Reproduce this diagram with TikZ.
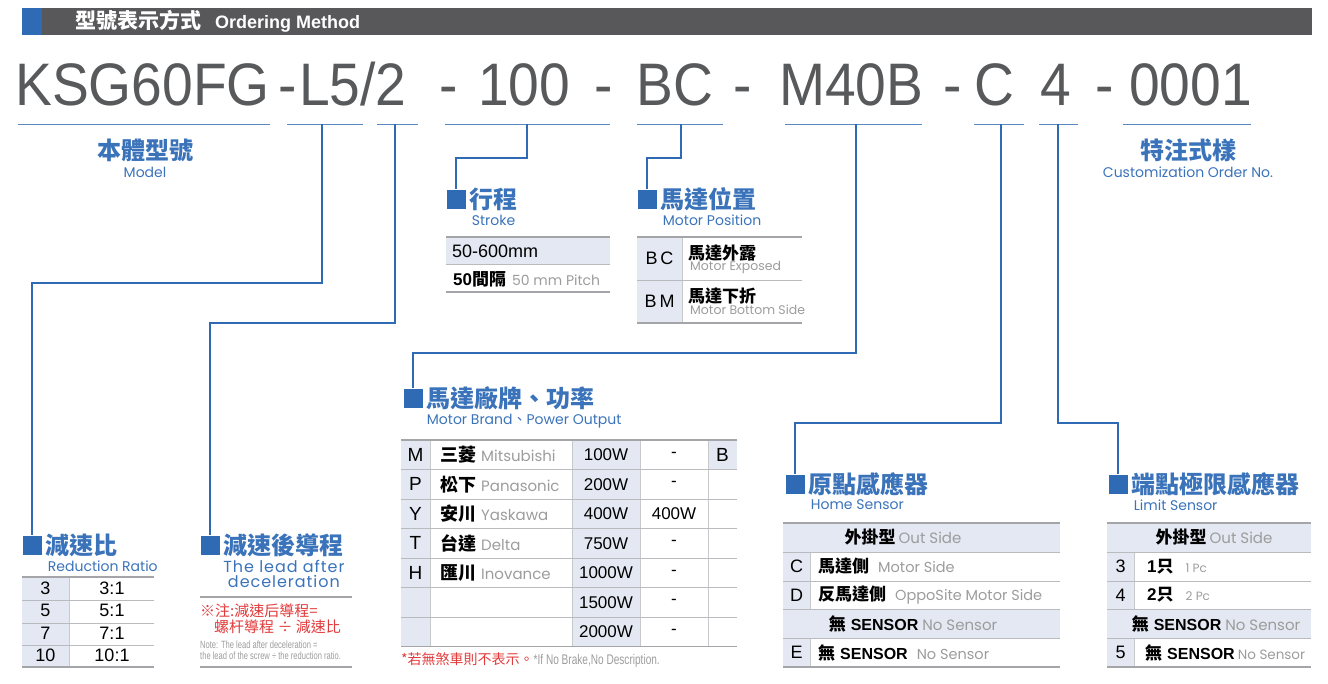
\documentclass[tikz,border=0pt]{standalone}
\usepackage{fontspec}
\setmainfont{Liberation Sans}
\newfontfamily\codefont[FakeStretch=0.92]{Liberation Sans}
\newfontfamily\notefont[FakeStretch=0.72]{Liberation Sans}
\newfontfamily\geofont{Poppins}
\newfontfamily\geowide[LetterSpace=6]{Poppins}
\newfontfamily\cjk{Noto Sans CJK TC}
\usetikzlibrary{positioning}
\usetikzlibrary{calc}

\definecolor{hdrgray}{HTML}{58585A}
\definecolor{kblue}{HTML}{2E6BB4}
\definecolor{tblue}{HTML}{3A73BA}
\definecolor{cellblue}{HTML}{E3E8F2}
\definecolor{rulegray}{HTML}{A3A5A8}
\definecolor{codegray}{HTML}{58595B}
\definecolor{engray}{HTML}{9C9C9C}
\definecolor{notered}{HTML}{E23A3B}

\newcommand\fsz[1]{\fontsize{#1}{#1}\selectfont}
\newcommand\engl[1]{{\geofont\color{engray}#1}}
\newcommand\cjkb[1]{{\cjk\bfseries #1}}

\begin{document}
\begin{tikzpicture}[x=1pt,y=-1pt,
                    every node/.style={inner sep=0pt},
                    link/.style={kblue,line width=1.4pt},
                    underline/.style={kblue!80,line width=1pt},
                    bullet/.style={fill=kblue,minimum size=19pt},
                    sectitle/.style={tblue,font=\cjk\bfseries\fsz{24},anchor=west},
                    secsub/.style={tblue,font=\geofont\fsz{14}},
                    code/.style={codegray,font=\codefont\fsz{60},anchor=base west},
                    toprule/.style={rulegray,line width=1.6pt},
                    midrule/.style={rulegray!75,line width=1pt},
                    vrule/.style={rulegray!60,line width=0.8pt},
                    cell/.style={font=\fsz{18}}]
\useasboundingbox (0,0) rectangle (1328,683);
% header bar
\fill[hdrgray] (22,8) rectangle (1312,35);
\fill[kblue] (22,8) rectangle (42,35);
\node[anchor=west,white] (header) at (75,21.5)
     {\cjkb{\fsz{21}型號表示方式}\hspace{14pt}{\bfseries\fsz{18}Ordering Method}};
%
% the ordering code
\node[code] (model code) at (15,105) {KSG60FG};
\node[code] (dash 1) at (278,105) {-};
\node[code] (lead code) at (299,105) {L5/2};
\node[code] (dash 2) at (439,105) {-};
\node[code] (stroke code) at (478,105) {100};
\node[code] (dash 3) at (594,105) {-};
\node[code] (pos code) at (636,105) {BC};
\node[code] (dash 4) at (733,105) {-};
\node[code] (brand code) at (779,105) {M40B};
\node[code] (dash 5) at (943,105) {-};
\node[code] (home code) at (974,105) {C};
\node[code] (limit code) at (1040,105) {4};
\node[code] (dash 6) at (1095,105) {-};
\node[code] (custom code) at (1129,105) {0001};
%
\draw[underline] (18,124) -- (270,124);
\draw[underline] (287,124) -- (363,124);
\draw[underline] (377,124) -- (418,124);
\draw[underline] (445,124) -- (610,124);
\draw[underline] (637,124) -- (723,124);
\draw[underline] (785,124) -- (922,124);
\draw[underline] (974,124) -- (1024,124);
\draw[underline] (1039,124) -- (1078,124);
\draw[underline] (1123,124) -- (1251,124);
\coordinate (ratio drop) at (322,124);
\coordinate (lead drop) at (395,124);
\coordinate (stroke drop) at (527,124);
\coordinate (pos drop) at (681,124);
\coordinate (brand drop) at (856,124);
\coordinate (home drop) at (1001,124);
\coordinate (limit drop) at (1058,124);
%
\node[tblue,font=\cjk\bfseries\fsz{24}] (model title) at (145,150) {本體型號};
\node[secsub,below=5pt of model title] (model sub) {Model};
\node[tblue,font=\cjk\bfseries\fsz{24}] (custom title) at (1188,150) {特注式樣};
\node[secsub,below=5pt of custom title] (custom sub) {Customization Order No.};
%
% section bullets and titles
\node[bullet] (ratio sq) at (32,545) {};
\node[bullet] (lead sq) at (210,545) {};
\node[bullet] (stroke sq) at (456,199) {};
\node[bullet] (pos sq) at (647,199) {};
\node[bullet] (brand sq) at (413,398) {};
\node[bullet] (home sq) at (795,484) {};
\node[bullet] (limit sq) at (1118,484) {};
\foreach \sec/\txt in {ratio/減速比,lead/減速後導程,stroke/行程,pos/馬達位置,
                       brand/馬達廠牌、功率,home/原點感應器,limit/端點極限感應器}
  \node[sectitle,right=4pt of \sec\space sq] (\sec\space title) {\txt};
\foreach \sec/\txt in {ratio/Reduction Ratio,stroke/Stroke,pos/Motor Position,
                       home/Home Sensor,limit/Limit Sensor}
  \node[secsub,below right=4pt and 2pt of \sec\space title.south west] (\sec\space sub) {\txt};
\node[secsub,below right=4pt and 0pt of brand title.south west] (brand sub)
     {Motor Brand{\cjk 、}Power Output};
\node[tblue,font=\geowide\fontsize{16}{15}\selectfont,align=center,below=3pt of lead title]
     (lead sub) {The lead after\\deceleration};
%
% links
\draw[link] (ratio drop) -- ++(0,159) -| (ratio sq);
\draw[link] (lead drop) -- ++(0,199) -| (lead sq);
\draw[link] (stroke drop) -- ++(0,34) -| (stroke sq);
\draw[link] (pos drop) -- ++(0,34) -| (pos sq);
\draw[link] (brand drop) -- ++(0,229) -| (brand sq);
\draw[link] (home drop) -- ++(0,299) -| (home sq);
\draw[link] (limit drop) -- ++(0,299) -| (limit sq);
%
% reduction ratio table
\fill[cellblue] (22,577) rectangle (69,667);
\draw[vrule] (69,577) -- (69,667);
\foreach \y in {600,623,645} \draw[midrule] (22,\y) -- (154,\y);
\draw[toprule] (22,577) -- (154,577);
\draw[toprule] (22,667) -- (154,667);
\foreach \k/\v [count=\i] in {3/3:1,5/5:1,7/7:1,10/10:1}
{
  \node[cell] (ratio key \i) at (45.5,{577+22.5*\i-11.25}) {\k};
  \node[cell] (ratio val \i) at (112,{577+22.5*\i-11.25}) {\v};
}
%
% lead note
\draw[toprule] (200,597) -- (352,597);
\node[anchor=west,notered,font=\cjk\fsz{15}] (lead note 1) at (200,611) {※注:減速后導程=};
\node[anchor=west,notered,font=\cjk\fsz{15}] (lead note 2) at (214,627) {螺杆導程 ÷ 減速比};
\node[anchor=west,engray,font=\notefont\fsz{10.5}] (lead note 3) at (200,645)
     {Note: The lead after deceleration =};
\node[anchor=west,engray,font=\notefont\fsz{10.5}] (lead note 4) at (200,656)
     {the lead of the screw ÷ the reduction ratio.};
\draw[toprule] (200,667) -- (352,667);
%
% stroke table
\fill[cellblue] (446,237) rectangle (610,264);
\draw[toprule] (446,237) -- (610,237);
\draw[midrule] (446,264) -- (610,264);
\draw[toprule] (446,292) -- (610,292);
\node[anchor=west,font=\fsz{18}] (stroke range) at (452,251) {50-600mm};
\node[anchor=west] (stroke pitch) at (453,279)
     {{\bfseries\fsz{17}50}\cjkb{\fsz{17}間隔}\hspace{6pt}\engl{\fsz{14}50 mm Pitch}};
%
% motor position table
\fill[cellblue] (637,237) rectangle (682,323);
\draw[vrule] (682,237) -- (682,323);
\draw[toprule] (637,237) -- (802,237);
\draw[midrule] (637,280) -- (802,280);
\draw[toprule] (637,323) -- (802,323);
\foreach \k/\cn/\eng [count=\i] in {B\,C/馬達外露/Motor Exposed,B\,M/馬達下折/Motor Bottom Side}
{
  \node[cell] (pos key \i) at (659.5,{237+43*\i-21.5}) {\k};
  \node[anchor=west,font=\cjk\bfseries\fsz{17}] (pos cn \i) at (688,{237+43*\i-27}) {\cn};
  \node[anchor=west,engray,font=\geofont\fsz{12.5}] (pos en \i) at (690,{237+43*\i-13}) {\eng};
}
%
% motor brand table
\fill[cellblue] (401,440) rectangle (430,646.5);
\fill[cellblue] (572,440) rectangle (640,646.5);
\fill[cellblue] (708,440) rectangle (737,469.5);
\foreach \x in {430,572,640,708} \draw[vrule] (\x,440) -- (\x,646.5);
\foreach \k in {1,...,6} \draw[midrule] (401,{440+29.5*\k}) -- (737,{440+29.5*\k});
\draw[toprule] (401,440) -- (737,440);
\draw[toprule] (401,646.5) -- (737,646.5);
\foreach \key/\cn/\eng/\pw/\br [count=\i] in {M/三菱/Mitsubishi/100W/-,P/松下/Panasonic/200W/-,
    Y/安川/Yaskawa/400W/400W,T/台達/Delta/750W/-,H/匯川/Inovance/1000W/-,
    {}/{}/{}/1500W/-,{}/{}/{}/2000W/-}
{
  \node[font=\fsz{19}] (brand key \i) at (415.5,{440+29.5*\i-14.75}) {\key};
  \node[anchor=west] (brand name \i) at (440,{440+29.5*\i-14.75})
       {\cjkb{\fsz{18}\cn}\hspace{5pt}\engl{\fsz{15}\eng}};
  \node[font=\fsz{17}] (brand power \i) at (606,{440+29.5*\i-14.75}) {\pw};
  \node[font=\fsz{17}] (brand brake \i) at (674,{440+29.5*\i-14.75}) {\br};
}
\node[font=\fsz{19}] (brand B) at (722.5,454.75) {B};
\node[anchor=west] (brand note) at (401,660)
     {{\cjk\color{notered}\fsz{14}*若無煞車則不表示。}{\notefont\color{engray}\fsz{14}*If No Brake,No Description.}};
%
% home sensor table
\fill[cellblue] (783,523) rectangle (1060,552);
\fill[cellblue] (783,609.5) rectangle (1060,638);
\fill[cellblue] (783,552) rectangle (810,609.5);
\fill[cellblue] (783,638) rectangle (810,667);
\draw[vrule] (810,552) -- (810,609.5);
\draw[vrule] (810,638) -- (810,667);
\foreach \y in {552,581,609.5,638} \draw[midrule] (783,\y) -- (1060,\y);
\draw[toprule] (783,523) -- (1060,523);
\draw[toprule] (783,667) -- (1060,667);
\node (home head) at (903,537.5) {\cjkb{\fsz{17}外掛型}\hspace{3pt}\engl{\fsz{15}Out Side}};
\node (home none) at (913,624)
     {\cjkb{\fsz{17}無}\hspace{5pt}{\bfseries\fsz{16}SENSOR}\hspace{4pt}\engl{\fsz{15}No Sensor}};
\foreach \k/\cn/\eng/\y [count=\i] in {C/馬達側/Motor Side/566.5,D/反馬達側/OppoSite Motor Side/595,
                                      E/無/No Sensor/652.5}
{
  \node[cell] (home key \i) at (796.5,\y) {\k};
  \node[anchor=west] (home opt \i) at (818,\y)
       {\cjkb{\fsz{17}\cn}\ifnum\i=3\hspace{5pt}{\bfseries\fsz{16}SENSOR}\fi\hspace{9pt}\engl{\fsz{14.5}\eng}};
}
%
% limit sensor table
\fill[cellblue] (1107,523) rectangle (1311,552);
\fill[cellblue] (1107,609.5) rectangle (1311,638);
\fill[cellblue] (1107,552) rectangle (1134,609.5);
\fill[cellblue] (1107,638) rectangle (1134,667);
\draw[vrule] (1134,552) -- (1134,609.5);
\draw[vrule] (1134,638) -- (1134,667);
\foreach \y in {552,581,609.5,638} \draw[midrule] (1107,\y) -- (1311,\y);
\draw[toprule] (1107,523) -- (1311,523);
\draw[toprule] (1107,667) -- (1311,667);
\node (limit head) at (1214,537.5) {\cjkb{\fsz{17}外掛型}\hspace{3pt}\engl{\fsz{15}Out Side}};
\node (limit none) at (1216,624)
     {\cjkb{\fsz{17}無}\hspace{5pt}{\bfseries\fsz{16}SENSOR}\hspace{4pt}\engl{\fsz{15}No Sensor}};
\foreach \n/\cn/\eng/\y [count=\i] in {3/1/1 Pc/566.5,4/2/2 Pc/595}
{
  \node[cell] (limit key \i) at (1120.5,\y) {\n};
  \node[anchor=west] (limit opt \i) at (1147,\y)
       {{\bfseries\fsz{17}\cn}\cjkb{\fsz{17}只}\hspace{12pt}\engl{\fsz{12}\eng}};
}
\node[cell] (limit key 3) at (1120.5,652.5) {5};
\node[anchor=west] (limit opt 3) at (1145,652.5)
     {\cjkb{\fsz{17}無}\hspace{5pt}{\bfseries\fsz{16}SENSOR}\hspace{3pt}\engl{\fsz{13.5}No Sensor}};
\end{tikzpicture}
\end{document}
